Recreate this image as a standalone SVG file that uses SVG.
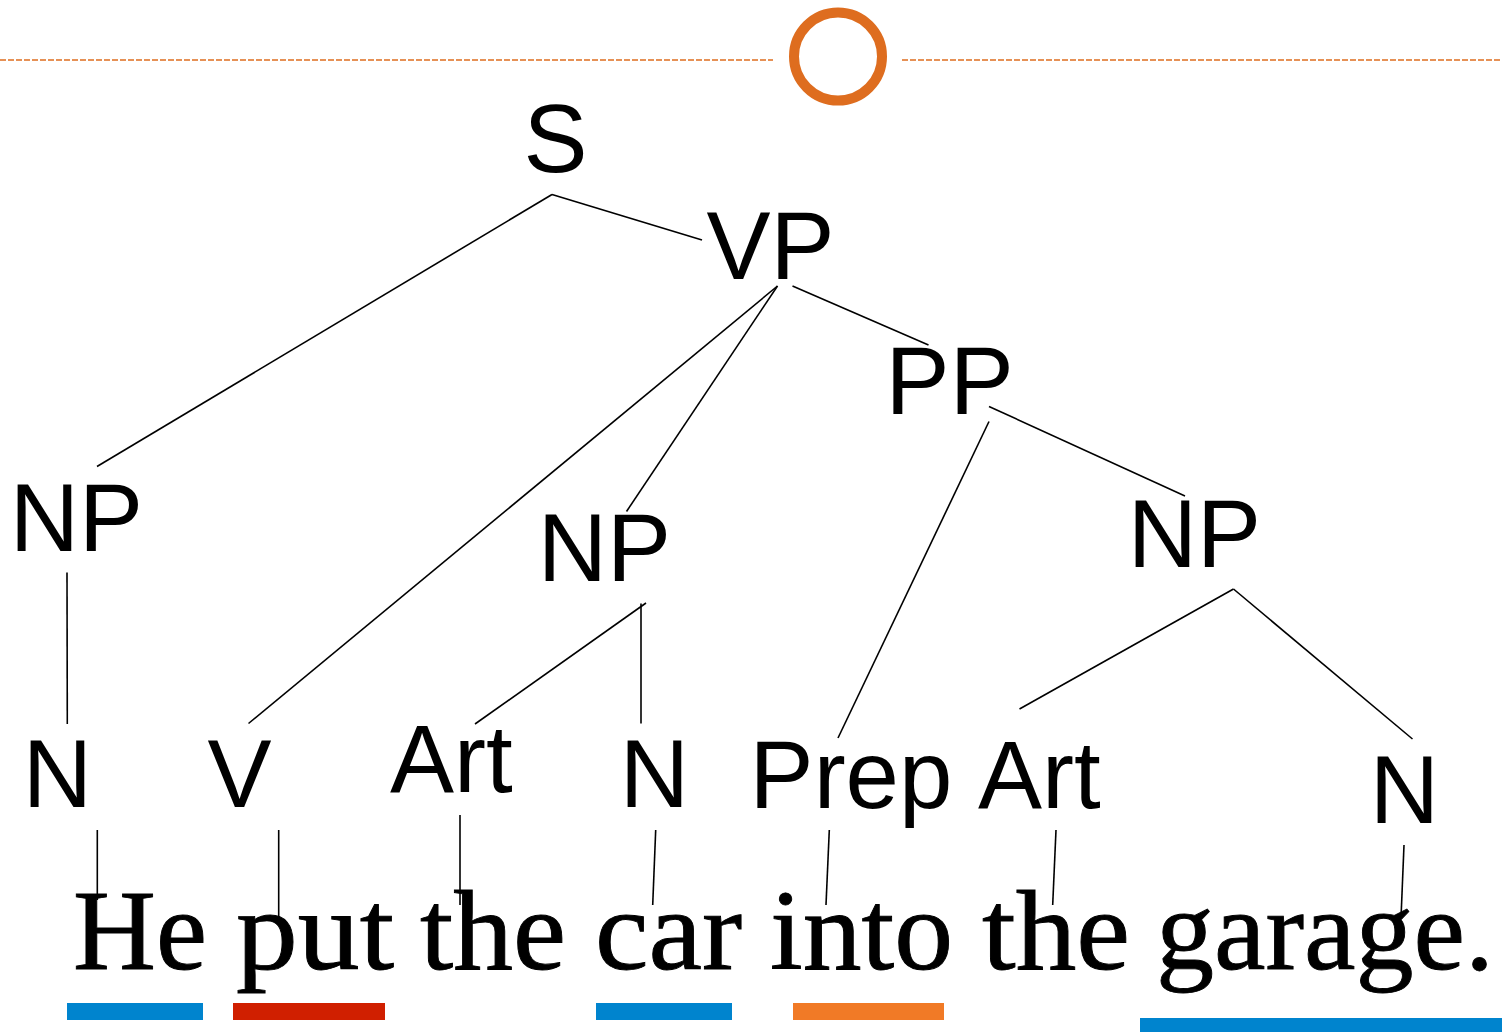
<svg xmlns="http://www.w3.org/2000/svg" width="1502" height="1032" viewBox="0 0 1502 1032">
<style>
.lbl{font-family:"Liberation Sans",Arial,sans-serif;font-size:96px;fill:#000}
.edge{stroke:#000;stroke-width:1.6;fill:none;stroke-linecap:butt}
.sent{font-family:"Liberation Serif","Times New Roman",serif;font-size:114px;fill:#000;stroke:#000;stroke-width:0.9}
.dash{stroke:#DE6D1F;stroke-width:1.4;stroke-dasharray:6 2;fill:none}
</style>
<rect width="1502" height="1032" fill="#fff"/>
<g id="header">
<line class="dash" x1="0" y1="60" x2="773" y2="60"/>
<line class="dash" x1="902" y1="60" x2="1502" y2="60"/>
<circle cx="838" cy="56.5" r="44" fill="none" stroke="#DE6D1F" stroke-width="10"/>
</g>
<g id="connectors">
<line class="edge" x1="552" y1="194.5" x2="97" y2="466.5"/>
<line class="edge" x1="552" y1="194.5" x2="702" y2="240"/>
<line class="edge" x1="777.5" y1="286" x2="248.5" y2="723.5"/>
<line class="edge" x1="777.5" y1="286" x2="626.5" y2="511.5"/>
<line class="edge" x1="792.5" y1="286" x2="928.5" y2="345"/>
<line class="edge" x1="989" y1="406.5" x2="1185" y2="496"/>
<line class="edge" x1="989" y1="421.5" x2="838" y2="738"/>
<line class="edge" x1="67" y1="572.5" x2="67.3" y2="724"/>
<line class="edge" x1="646" y1="603" x2="475" y2="724"/>
<line class="edge" x1="641" y1="603.5" x2="641" y2="723.5"/>
<line class="edge" x1="1233.5" y1="589" x2="1019.5" y2="709"/>
<line class="edge" x1="1233.5" y1="589" x2="1412.5" y2="739"/>
<line class="edge" x1="97.3" y1="830" x2="97.3" y2="900"/>
<line class="edge" x1="278.7" y1="830" x2="278.7" y2="918"/>
<line class="edge" x1="460" y1="815" x2="460" y2="905"/>
<line class="edge" x1="655.7" y1="830" x2="652.7" y2="905"/>
<line class="edge" x1="829.3" y1="830" x2="826" y2="905"/>
<line class="edge" x1="1056" y1="830" x2="1052.7" y2="905"/>
<line class="edge" x1="1404" y1="845" x2="1401" y2="918"/>
</g>
<g id="node-S"><text class="lbl" x="523.5" y="172">S</text></g>
<g id="node-VP"><text class="lbl" x="706.5" y="279">VP</text></g>
<g id="node-PP"><text class="lbl" x="885.6" y="414">PP</text></g>
<g id="node-NP1"><text class="lbl" x="9.7" y="551">NP</text></g>
<g id="node-NP2"><text class="lbl" x="537.7" y="581">NP</text></g>
<g id="node-NP3"><text class="lbl" x="1127.7" y="567">NP</text></g>
<g id="node-N1"><text class="lbl" x="22.7" y="807">N</text></g>
<g id="node-V"><text class="lbl" x="207.5" y="807">V</text></g>
<g id="node-Art1"><text class="lbl" x="390" y="792">Art</text></g>
<g id="node-N2"><text class="lbl" x="619.7" y="807">N</text></g>
<g id="node-Prep"><text class="lbl" x="749.6" y="808">Prep</text></g>
<g id="node-Art2"><text class="lbl" x="978" y="808">Art</text></g>
<g id="node-N3"><text class="lbl" x="1369.7" y="823">N</text></g>
<g id="sentence">
<text class="sent" x="73" y="969" textLength="134" lengthAdjust="spacingAndGlyphs">He</text>
<text class="sent" x="236" y="969" textLength="158" lengthAdjust="spacingAndGlyphs">put</text>
<text class="sent" x="420" y="969" textLength="146" lengthAdjust="spacingAndGlyphs">the</text>
<text class="sent" x="595" y="969" textLength="147" lengthAdjust="spacingAndGlyphs">car</text>
<text class="sent" x="770" y="969" textLength="183" lengthAdjust="spacingAndGlyphs">into</text>
<text class="sent" x="982" y="969" textLength="148" lengthAdjust="spacingAndGlyphs">the</text>
<text class="sent" x="1156" y="969" textLength="338" lengthAdjust="spacingAndGlyphs">garage.</text>
</g>
<g id="underlines">
<rect x="67" y="1003" width="136" height="17" fill="#0084CE"/>
<rect x="233" y="1003" width="152" height="17" fill="#D01F00"/>
<rect x="596" y="1003" width="136" height="17" fill="#0084CE"/>
<rect x="793" y="1003" width="151" height="17" fill="#F17A26"/>
<rect x="1140" y="1018" width="362" height="14" fill="#0084CE"/>
</g>
</svg>
